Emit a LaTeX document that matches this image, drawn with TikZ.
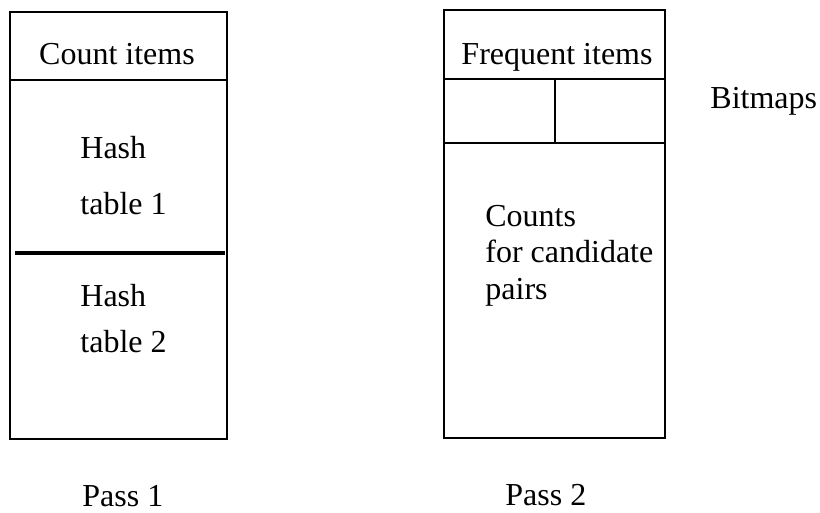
\documentclass[tikz,border=0pt]{standalone}
\usepackage{fontspec}
\setmainfont{Liberation Serif}
\begin{document}
\begin{tikzpicture}[x=0.5pt,y=-0.5pt,
  lbl/.style={inner sep=0pt,anchor=base west,font=\fontsize{16}{19}\selectfont},
  lblc/.style={inner sep=0pt,anchor=base,font=\fontsize{16}{19}\selectfont},
  boxline/.style={line width=0.9pt},
  thickline/.style={line width=1.6pt}]
\useasboundingbox (0,0) rectangle (820,513);
% Pass 1 box
\draw[boxline] (10,12) rectangle (227,439);
\draw[boxline] (10,80) -- (227,80);
\draw[thickline] (15,253) -- (225,253);
\node[lblc] (count) at (117,65) {Count items};
\node[lbl] (hash1) at (80,159) {Hash};
\node[lbl] (tab1) at (80,215) {table 1};
\node[lbl] (hash2) at (80,307) {Hash};
\node[lbl] (tab2) at (80,353) {table 2};
\node[lbl] (pass1) at (82,506) {Pass 1};
% Pass 2 box
\draw[boxline] (444,10) rectangle (665,438);
\draw[boxline] (444,79) -- (665,79);
\draw[boxline] (444,143) -- (665,143);
\draw[boxline] (555,79) -- (555,143);
\node[lblc] (freq) at (557,65) {Frequent items};
\node[lbl] (bitmaps) at (710,109) {Bitmaps};
\node[lbl] (counts) at (485,227) {Counts};
\node[lbl] (forc) at (485,263) {for candidate};
\node[lbl] (pairs) at (485,300) {pairs};
\node[lbl] (pass2) at (505,505) {Pass 2};
\end{tikzpicture}
\end{document}
